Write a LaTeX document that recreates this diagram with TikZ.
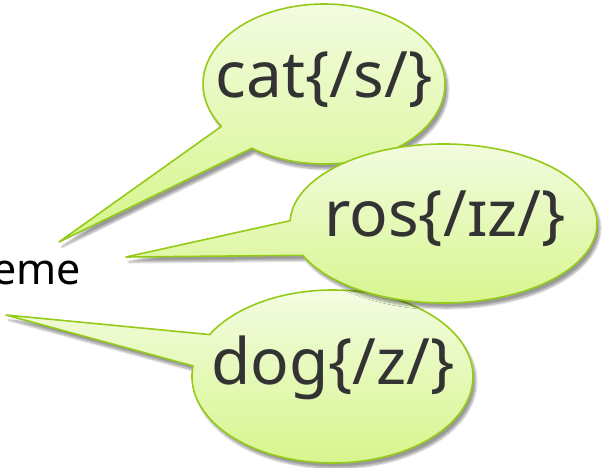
\documentclass[tikz,border=0pt]{standalone}
\usepackage{fontspec}
\setmainfont{Noto Sans}
\usetikzlibrary{shadows.blur}
\definecolor{bubbleline}{RGB}{148,202,24}
\definecolor{bubbletop}{RGB}{244,252,228}
\definecolor{bubblebot}{RGB}{214,245,138}
\definecolor{bubbletext}{RGB}{51,51,51}
\tikzset{
  bubble/.style={draw=bubbleline, line width=1.6pt, line join=round,
    top color=bubbletop, bottom color=bubblebot,
    blur shadow={shadow xshift=3pt, shadow yshift=-5pt, shadow blur steps=8, shadow opacity=40}},
  bubbletxt/.style={text=bubbletext, font=\fontsize{64}{76}\selectfont, inner sep=0pt, anchor=base},
  labeltxt/.style={text=black, font=\fontsize{43}{51}\selectfont, inner sep=0pt, anchor=base east}
}
\begin{document}
\begin{tikzpicture}[x=1pt,y=1pt]
\useasboundingbox (0,0) rectangle (603,468);
% centres and tips
\coordinate (catc) at (324,384);
\coordinate (cattip) at (59,226);
\coordinate (dogc) at (332.5,91.5);
\coordinate (dogtip) at (6,153);
\coordinate (rosc) at (443.5,244.5);
\coordinate (rostip) at (126,211);
% cat bubble
\path[bubble] (catc) ++(212:121pt and 80pt) -- (cattip) -- ($(catc)+(233.4:121pt and 80pt)$)
  arc[start angle=233.4, end angle=572, x radius=121pt, y radius=80pt] -- cycle;
% dog bubble
\path[bubble] (dogc) ++(151:140.5pt and 86.5pt) -- (dogtip) -- ($(dogc)+(173:140.5pt and 86.5pt)$)
  arc[start angle=173, end angle=511, x radius=140.5pt, y radius=86.5pt] -- cycle;
% ros bubble
\path[bubble] (rosc) ++(178:153.5pt and 79.5pt) -- (rostip) -- ($(rosc)+(203.6:153.5pt and 79.5pt)$)
  arc[start angle=203.6, end angle=538, x radius=153.5pt, y radius=79.5pt] -- cycle;
% texts
\node[bubbletxt] (cat) at (324,370) {cat\{/s/\}};
\node[bubbletxt] (ros) at (445,231) {ros\{/ɪz/\}};
\node[bubbletxt] (dog) at (333,83) {dog\{/z/\}};
\node[labeltxt] (eme) at (81,183) {eme};
\end{tikzpicture}
\end{document}
